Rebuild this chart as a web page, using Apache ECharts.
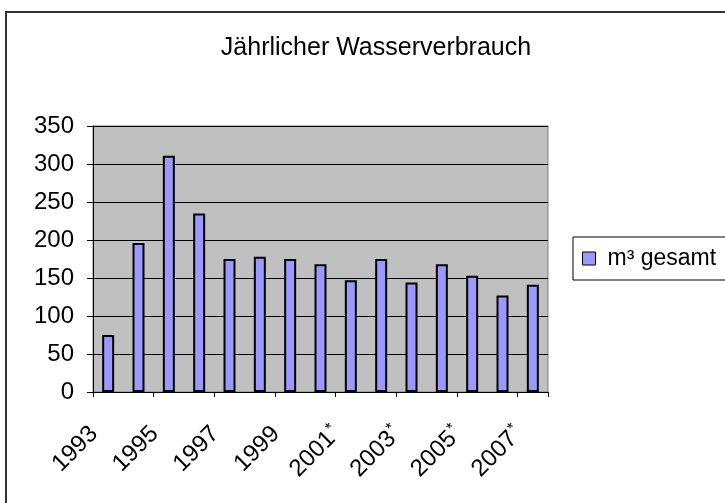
<!DOCTYPE html>
<html>
<head>
<meta charset="utf-8">
<script src="https://cdn.jsdelivr.net/npm/echarts@6/dist/echarts.min.js"></script>
<style>
    html, body { margin: 0; padding: 0; background: #fff; }
    #chart { width: 725px; height: 503px; }
</style>
</head>
<body>
<div id="chart"></div>
<script>
    // Jahre (ab 2001 mit Sternchen)
    var years = ['1993', '1994', '1995', '1996', '1997', '1998', '1999', '2000',
        '2001*', '2002*', '2003*', '2004*', '2005*', '2006*', '2007*'];
    // m³ gesamt
    var gesamt = [75, 196, 311, 235, 175, 178, 175, 168, 147, 175, 144, 168, 153, 127, 141];
    var yTicks = { min: 0, max: 350, step: 50 };

    var font = 'Liberation Sans, Arial, sans-serif';
    var chart = echarts.init(document.getElementById('chart'));
    var option = {
        animation: false,
        textStyle: { fontFamily: font },
        graphic: [{
            // Rahmen um das Diagramm
            type: 'rect',
            shape: { x: 6, y: 12, width: 800, height: 600 },
            style: { fill: null, stroke: '#333', lineWidth: 2 },
            silent: true
        }],
        title: {
            text: 'Jährlicher Wasserverbrauch',
            left: 371,
            textAlign: 'center',
            top: 31,
            textStyle: { fontFamily: font, fontSize: 25, fontWeight: 'normal', color: '#000' }
        },
        legend: {
            left: 573,
            top: 237,
            orient: 'vertical',
            padding: [10, 20, 10, 9],
            borderColor: '#000',
            borderWidth: 1,
            itemWidth: 13,
            itemHeight: 13,
            icon: 'rect',
            itemStyle: { color: '#9999FF', borderColor: '#000', borderWidth: 1 },
            textStyle: { fontFamily: font, fontSize: 23, color: '#000', padding: [0, 0, 0, 7] },
            data: ['m³ gesamt']
        },
        grid: {
            left: 93, right: 177, top: 126, bottom: 111,
            show: true,
            backgroundColor: '#C0C0C0',
            borderColor: '#808080',
            borderWidth: 1
        },
        xAxis: {
            type: 'category',
            data: years,
            axisLine: { lineStyle: { color: '#000', width: 1 } },
            axisTick: { show: true, length: 5, lineStyle: { color: '#000' } },
            axisLabel: {
                interval: 1,
                rotate: 45,
                margin: 24,
                padding: [0, 20, 0, 0],
                color: '#000',
                fontSize: 24,
                formatter: function (v) {
                    if (v.indexOf('*') >= 0) {
                        return '{a|' + v.replace('*', '') + '}{s|*}';
                    }
                    return '{a|' + v + '}';
                },
                rich: {
                    a: { fontFamily: font, fontSize: 24, color: '#000' },
                    s: { fontFamily: font, fontSize: 16, color: '#000', padding: [0, 0, 12, 1] }
                }
            },
            splitLine: { show: false }
        },
        yAxis: {
            type: 'value',
            min: yTicks.min,
            max: yTicks.max,
            interval: yTicks.step,
            axisLine: { show: true, lineStyle: { color: '#000', width: 1 } },
            axisTick: { show: true, length: 6, lineStyle: { color: '#000' } },
            axisLabel: { color: '#000', fontSize: 24, margin: 19, fontFamily: font },
            splitLine: { show: true, lineStyle: { color: '#000', width: 1 } }
        },
        series: [{
            name: 'm³ gesamt',
            type: 'bar',
            data: gesamt,
            barWidth: 12,
            itemStyle: { color: '#9999FF', borderColor: '#000', borderWidth: 2 }
        }]
    };
    chart.setOption(option);
</script>
</body>
</html>
